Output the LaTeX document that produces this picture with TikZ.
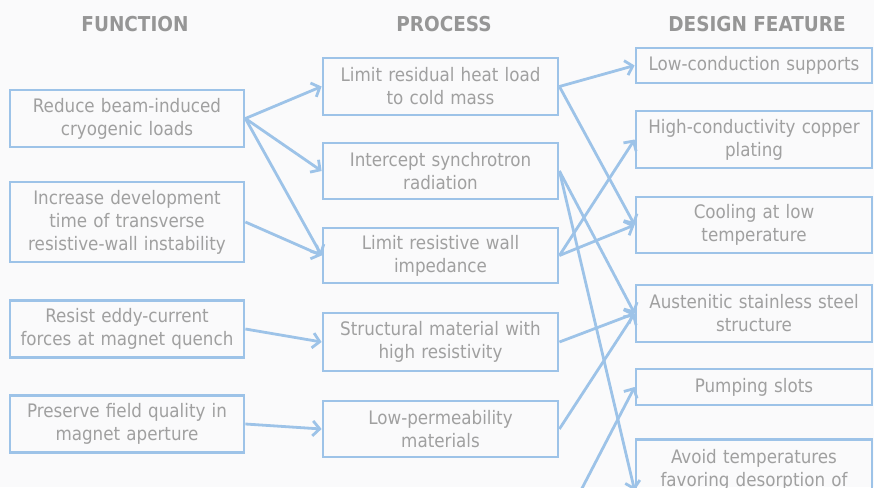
\documentclass[tikz,border=0pt]{standalone}
\usepackage{fontspec}
\setmainfont{DejaVu Sans Condensed}
\usetikzlibrary{arrows.meta}

\definecolor{lineblue}{RGB}{157,195,232}
\definecolor{txtgray}{RGB}{160,160,160}
\definecolor{headgray}{RGB}{150,150,150}
\definecolor{bgcol}{RGB}{250,250,251}

\tikzset{
  box/.style={draw=lineblue, line width=2.8pt, rectangle, inner sep=0pt,
    minimum width=234pt, text width=230pt, align=center, text=txtgray,
    font=\fontsize{18.6}{23}\selectfont},
  boxtext/.style={inner sep=0pt, text width=230pt, align=center, text=txtgray,
    font=\fontsize{18.6}{23}\selectfont},
  header/.style={text=headgray, font=\fontsize{20.5}{24}\selectfont\bfseries},
  link/.style={draw=lineblue, line width=2.8pt,
    -{Straight Barb[length=7pt,width=15pt,line width=2.8pt]}},
}

\begin{document}
\begin{tikzpicture}[x=1pt,y=-1pt]
  \fill[bgcol] (0,0) rectangle (874,487);
  \useasboundingbox (0,0) rectangle (874,487);

  % column headings
  \node[header] (hF) at (135,24) {FUNCTION};
  \node[header] (hP) at (444,24) {PROCESS};
  \node[header] (hD) at (757,24) {DESIGN FEATURE};

  % functions
  \node[box, minimum height=57pt] (F1) at (127,118.5) {Reduce beam-induced\\cryogenic loads};
  \node[box, minimum height=80pt] (F2) at (127,222) {Increase development\\time of transverse\\resistive-wall instability};
  \node[box, minimum height=57pt] (F3) at (127,329) {Resist eddy-current\\forces at magnet quench};
  \node[box, minimum height=57pt] (F4) at (127,424) {Preserve field quality in\\magnet aperture};

  % processes
  \node[box, minimum width=235pt, minimum height=57pt] (P1) at (440.5,86.5) {Limit residual heat load\\to cold mass};
  \node[box, minimum width=235pt, minimum height=56pt] (P2) at (440.5,171) {Intercept synchrotron\\radiation};
  \node[box, minimum width=235pt, minimum height=55pt] (P3) at (440.5,255.5) {Limit resistive wall\\impedance};
  \node[box, minimum width=235pt, minimum height=58pt] (P4) at (440.5,342) {Structural material with\\high resistivity};
  \node[box, minimum width=235pt, minimum height=56pt] (P5) at (440.5,429) {Low-permeability\\materials};

  % design features
  \node[box, minimum width=236pt, minimum height=35pt] (D1) at (754,65.5) {Low-conduction supports};
  \node[box, minimum width=236pt, minimum height=57pt] (D2) at (754,139.5) {High-conductivity copper\\plating};
  \node[box, minimum width=236pt, minimum height=56pt] (D3) at (754,225) {Cooling at low\\temperature};
  \node[box, minimum width=236pt, minimum height=57pt] (D4) at (754,313.5) {Austenitic stainless steel\\structure};
  \node[box, minimum width=236pt, minimum height=36pt] (D5) at (754,387) {Pumping slots};
  \node[box, minimum width=236pt, minimum height=102pt, anchor=north] (D6) at (754,438) {};
  \node[boxtext, anchor=north] (D6t) at ([yshift=-11pt]D6.north) {Avoid temperatures\\favoring desorption of};

  % incoming link from below
  \coordinate (src) at (578,496);

  % function -> process
  \draw[link] (F1.east) -- (P1.west);
  \draw[link] (F1.east) -- (P2.west);
  \draw[link] (F1.east) -- (P3.west);
  \draw[link] (F2.east) -- (P3.west);
  \draw[link] (F3.east) -- (P4.west);
  \draw[link] (F4.east) -- (P5.west);

  % process -> design feature
  \draw[link] (P1.east) -- (D1.west);
  \draw[link] (P1.east) -- (D3.west);
  \draw[link] (P2.east) -- (D4.west);
  \draw[link] (P2.east) -- (D6.west);
  \draw[link] (P3.east) -- (D2.west);
  \draw[link] (P3.east) -- (D3.west);
  \draw[link] (P4.east) -- (D4.west);
  \draw[link] (P5.east) -- (D4.west);
  \draw[link] (src) -- (D5.west);
\end{tikzpicture}
\end{document}
